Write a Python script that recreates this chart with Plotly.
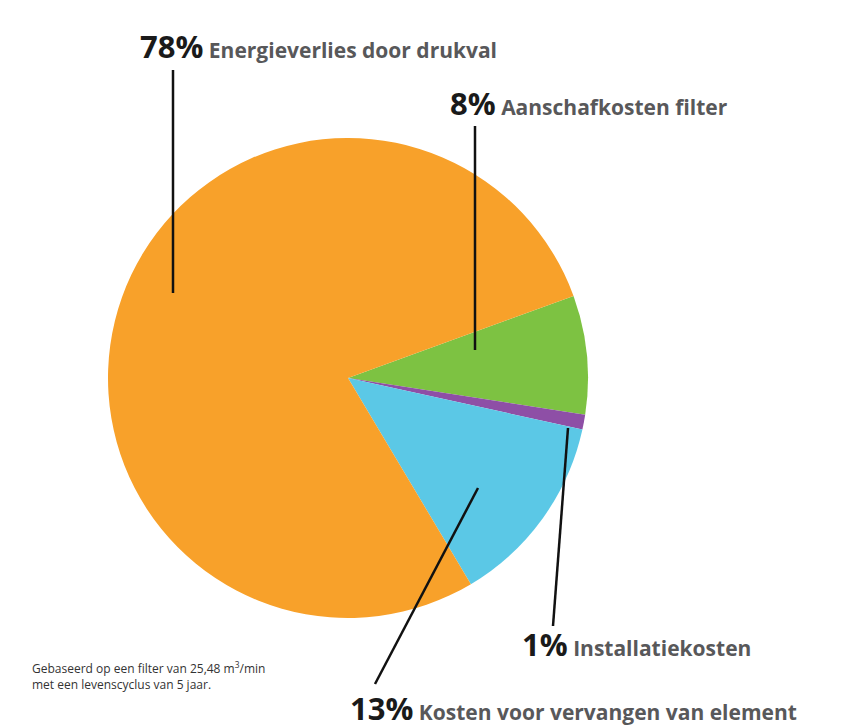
import plotly.graph_objects as go

labels = ["Aanschafkosten filter", "Installatiekosten", "Kosten voor vervangen van element", "Energieverlies door drukval"]
values = [8, 1, 13, 78]
colors = ["#7dc242", "#8e4fa6", "#5bc8e6", "#f8a12a"]

W, H = 846, 726
def px(x): return x / W
def py(y): return 1 - y / H

fig = go.Figure(go.Pie(
    labels=labels, values=values, sort=False, direction="clockwise",
    rotation=70, marker=dict(colors=colors, line=dict(color="white", width=0)),
    textinfo="none", hoverinfo="label+percent", showlegend=False,
    domain=dict(x=[px(100), px(580)], y=[py(610), py(130)]),
))

ann = [
    (130, 38, "78%", "Energieverlies door drukval"),
    (440, 95, "8%", "Aanschafkosten filter"),
    (512, 636, "1%", "Installatiekosten"),
    (340, 700, "13%", "Kosten voor vervangen van element"),
]
for x, y, p, t in ann:
    fig.add_annotation(x=px(x), y=py(y), xref="paper", yref="paper", xanchor="left", yanchor="middle",
                       showarrow=False,
                       text=f"<b><span style='font-size:31px;color:#1a1a1a'>{p}</span></b> "
                            f"<b><span style='font-size:21px;color:#58585a'>{t}</span></b>",
                       font=dict(family="Open Sans", size=21, color="#58585a"))

lines = [((165, 62), (165, 285)), ((467, 118), (467, 342)), ((545, 618), (560, 420)), ((367, 676), (470, 480))]
for (x0, y0), (x1, y1) in lines:
    fig.add_shape(type="line", xref="paper", yref="paper", x0=px(x0), y0=py(y0), x1=px(x1), y1=py(y1),
                  line=dict(color="#111111", width=2.5))

fig.add_annotation(x=px(22), y=py(668), xref="paper", yref="paper", xanchor="left", yanchor="middle",
                   showarrow=False, align="left",
                   text="Gebaseerd op een filter van 25,48 m<sup>3</sup>/min<br>met een levenscyclus van 5 jaar.",
                   font=dict(family="Open Sans", size=12, color="#333333"))

fig.update_layout(width=W, height=H, margin=dict(l=0, r=0, t=0, b=0),
                  paper_bgcolor="white", plot_bgcolor="white")
fig.write_html("out.html")
